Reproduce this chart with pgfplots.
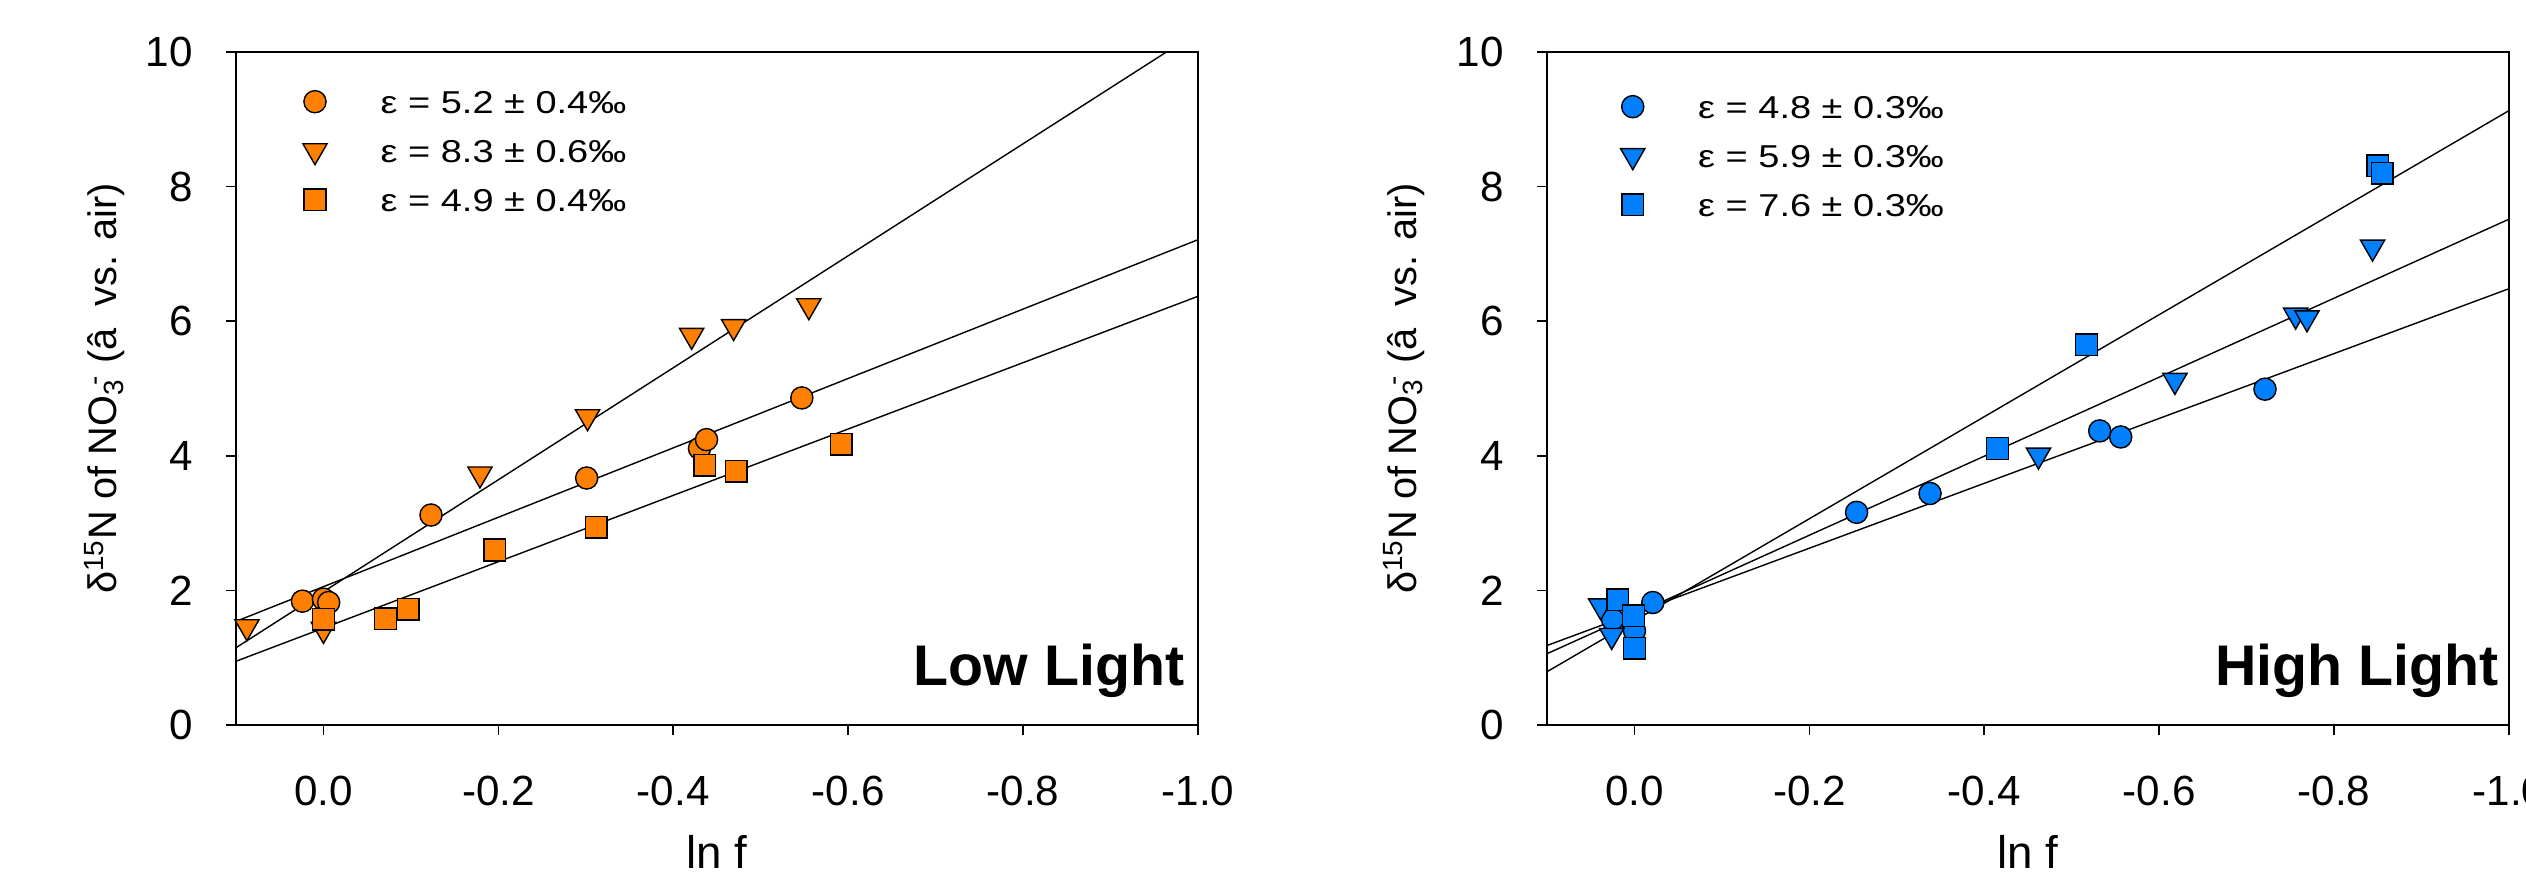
\documentclass[border=0pt]{standalone}
\usepackage{fontspec}
\setmainfont{Liberation Sans}
\usepackage{graphicx}
\usepackage{pgfplots}
\pgfplotsset{compat=1.18}
\definecolor{lowor}{HTML}{FF8000}
\definecolor{highbl}{HTML}{0080FF}
\newcommand{\leg}[1]{\scalebox{1.2}[1]{#1}}

\pgfplotsset{
  isoaxis/.style={
    scale only axis, width=9.62cm, height=6.73cm,
    xmin=-1, xmax=0.1, x dir=reverse, ymin=0, ymax=10,
    xtick={-1,-0.8,-0.6,-0.4,-0.2,0}, ytick={0,2,4,6,8,10},
    /pgf/number format/assume math mode=true,
    xticklabel style={/pgf/number format/.cd,fixed,fixed zerofill,precision=1,/tikz/.cd},
    tick label style={font=\fontsize{12}{14}\selectfont, inner sep=0pt},
    xticklabel shift=0.40cm, yticklabel shift=0.327cm,
    tick pos=left, tick align=outside, major tick length=0.1cm,
    every tick/.style={black, line width=0.45pt},
    axis line style={line width=0.45pt},
    xlabel={ln f},
    xlabel style={at={(axis description cs:0.5,-0.2125)}, anchor=base, font=\fontsize{13}{15}\selectfont, inner sep=0pt},
    ylabel={δ\textsuperscript{15}N of NO\textsubscript{3}\kern-2pt\textsuperscript{-} (â\ \ vs. air)},
    legend cell align=left,
    legend image code/.code={\path[draw=none,fill=none] (0cm,-0.215cm) rectangle (0.6cm,0.275cm); \draw[##1] plot coordinates {(0.3cm,0.03cm)};},
    fitline/.style={black, line width=0.4pt, no marks},
  },
  pcirc/.style={only marks, mark=*, mark size=3.15pt, mark options={draw=black, line width=0.4pt, fill=#1}},
  ptri/.style={only marks, mark=triangle*, mark size=3.98pt, mark options={draw=black, line width=0.4pt, fill=#1, rotate=180}},
  psq/.style={only marks, mark=square*, mark size=3.08pt, mark options={draw=black, line width=0.4pt, fill=#1}},
}

\begin{document}
\begin{tikzpicture}
\useasboundingbox (0cm,0cm) rectangle (25.26cm,8.72cm);

% Low light
\begin{axis}[isoaxis, at={(2.36cm,1.47cm)}, anchor=south west,
  ylabel style={at={(axis description cs:-0.1237,0.5)}, anchor=base, font=\fontsize{11.3}{13}\selectfont, inner sep=0pt},
  legend style={draw=none, fill=none, inner sep=0pt, at={(axis description cs:0.0502,0.9636)}, anchor=north west,
    font=\fontsize{9}{10}\selectfont, row sep=0pt, nodes={inner sep=0pt},
    /tikz/every odd column/.append style={column sep=0.357cm}}]
\addplot[pcirc=lowor] coordinates {(0.024,1.84)(0.0,1.87)(-0.006,1.82)(-0.123,3.12)(-0.301,3.67)(-0.430,4.11)(-0.438,4.24)(-0.547,4.86)};
\addlegendentry{\leg{ε = 5.2 ± 0.4‰}}
\addplot[ptri=lowor] coordinates {(0.0875,1.46)(0.0,1.42)(-0.179,3.73)(-0.302,4.58)(-0.421,5.79)(-0.469,5.92)(-0.555,6.23)};
\addlegendentry{\leg{ε = 8.3 ± 0.6‰}}
\addplot[psq=lowor] coordinates {(0.0,1.57)(-0.071,1.58)(-0.097,1.72)(-0.196,2.60)(-0.312,2.94)(-0.436,3.86)(-0.472,3.77)(-0.592,4.17)};
\addlegendentry{\leg{ε = 4.9 ± 0.4‰}}
\addplot[fitline, forget plot] coordinates {(0.1,1.540)(-1.0,7.211)};
\addplot[fitline, forget plot] coordinates {(0.1,1.148)(-1.0,10.30)};
\addplot[fitline, forget plot] coordinates {(0.1,0.947)(-1.0,6.370)};
\node[anchor=base east, font=\fontsize{16.3}{18}\selectfont\bfseries, inner sep=0pt] at (axis description cs:0.9865,0.058) {Low Light};
\end{axis}

% High light
\begin{axis}[isoaxis, at={(15.47cm,1.47cm)}, anchor=south west,
  ylabel style={at={(axis description cs:-0.1355,0.5)}, anchor=base, font=\fontsize{11.3}{13}\selectfont, inner sep=0pt},
  legend style={draw=none, fill=none, inner sep=0pt, at={(axis description cs:0.0572,0.9562)}, anchor=north west,
    font=\fontsize{9}{10}\selectfont, row sep=0pt, nodes={inner sep=0pt},
    /tikz/every odd column/.append style={column sep=0.355cm}}]
\addplot[pcirc=highbl] coordinates {(0.025,1.57)(0.0,1.40)(-0.021,1.82)(-0.254,3.16)(-0.338,3.44)(-0.532,4.37)(-0.556,4.28)(-0.721,4.99)};
\addlegendentry{\leg{ε = 4.8 ± 0.3‰}}
\addplot[ptri=highbl] coordinates {(0.0386,1.77)(0.026,1.33)(-0.462,4.01)(-0.618,5.12)(-0.756,6.09)(-0.769,6.05)(-0.844,7.10)};
\addlegendentry{\leg{ε = 5.9 ± 0.3‰}}
\addplot[psq=highbl] coordinates {(0.019,1.86)(0.001,1.62)(0.0,1.14)(-0.415,4.11)(-0.517,5.65)(-0.850,8.31)(-0.855,8.20)};
\addlegendentry{\leg{ε = 7.6 ± 0.3‰}}
\addplot[fitline, forget plot] coordinates {(0.1,1.181)(-1.0,6.483)};
\addplot[fitline, forget plot] coordinates {(0.1,1.059)(-1.0,7.516)};
\addplot[fitline, forget plot] coordinates {(0.1,0.791)(-1.0,9.129)};
\node[anchor=base east, font=\fontsize{16.3}{18}\selectfont\bfseries, inner sep=0pt] at (axis description cs:0.9896,0.058) {High Light};
\end{axis}
\end{tikzpicture}
\end{document}
